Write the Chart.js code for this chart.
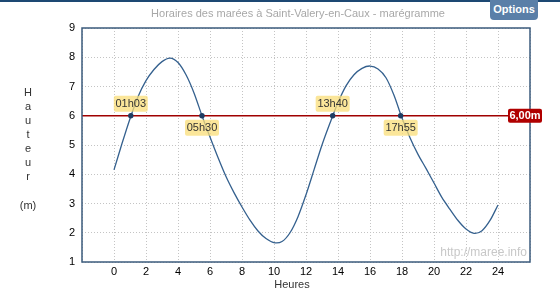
<!DOCTYPE html>
<html>
<head>
<meta charset="utf-8">
<script src="https://cdn.jsdelivr.net/npm/chart.js@4.4.1/dist/chart.umd.min.js"></script>
<style>
  body { margin: 0; background: #fff; }
  #wrap { position: relative; width: 560px; height: 299px; }
  #topbar { position: absolute; left: 0; top: 0; width: 560px; height: 2px; background: #1d4873; }
  #options {
    position: absolute; left: 490px; top: 0; width: 48px; height: 20px;
    background: #5a7fa8; color: #fff; font: bold 11px "Liberation Sans", Arial, sans-serif;
    text-align: center; line-height: 19px; border-radius: 0 0 4px 4px;
  }
</style>
</head>
<body>
<div id="wrap">
  <canvas id="myChart" width="560" height="299"></canvas>
  <div id="topbar"></div>
  <div id="options">Options</div>
</div>
<script>
// Tide heights every half hour (m)
var hours   = [0, 0.5, 1, 1.5, 2, 2.5, 3, 3.5, 4, 4.5, 5, 5.5, 6, 6.5, 7, 7.5, 8, 8.5, 9, 9.5, 10, 10.5,
               11, 11.5, 12, 12.5, 13, 13.5, 14, 14.5, 15, 15.5, 16, 16.5, 17, 17.5, 18, 18.5, 19, 19.5,
               20, 20.5, 21, 21.5, 22, 22.5, 23, 23.5, 24];
var heights = [4.15, 5.05, 5.9, 6.65, 7.2, 7.58, 7.85, 7.97, 7.82, 7.4, 6.78, 6.0, 5.27, 4.57, 3.92, 3.37, 2.88, 2.43, 2.06, 1.8, 1.66, 1.7,
               2.0, 2.55, 3.3, 4.15, 5.0, 5.75, 6.45, 7.02, 7.4, 7.62, 7.7, 7.6, 7.3, 6.7, 5.92, 5.25, 4.68, 4.2,
               3.7, 3.2, 2.8, 2.42, 2.13, 1.98, 2.07, 2.42, 2.95];
// Threshold and the times the curve crosses it
var threshold = 6;
var crossHours = [1.05, 5.5, 13.667, 17.917];
var crossLabels = ['01h03', '05h30', '13h40', '17h55'];
var crossAbove = [true, false, true, false];
// Axis ticks
var xTicks = [0, 2, 4, 6, 8, 10, 12, 14, 16, 18, 20, 22, 24];

var FONT = '"Liberation Sans", Arial, sans-serif';

function roundRect(c, x, y, w, h, r) {
  c.beginPath();
  c.moveTo(x + r, y);
  c.lineTo(x + w - r, y); c.quadraticCurveTo(x + w, y, x + w, y + r);
  c.lineTo(x + w, y + h - r); c.quadraticCurveTo(x + w, y + h, x + w - r, y + h);
  c.lineTo(x + r, y + h); c.quadraticCurveTo(x, y + h, x, y + h - r);
  c.lineTo(x, y + r); c.quadraticCurveTo(x, y, x + r, y);
  c.closePath();
}

var extras = {
  id: 'extras',
  afterDatasetsDraw: function(chart) {
    var c = chart.ctx, a = chart.chartArea;
    var xs = chart.scales.x, ys = chart.scales.y;
    c.save();
    // plot frame
    c.strokeStyle = '#3b5b7c';
    c.lineWidth = 1.5;
    c.strokeRect(a.left, a.top, a.right - a.left, a.bottom - a.top);

    // crossing labels
    c.font = '11px ' + FONT;
    c.textAlign = 'center';
    c.textBaseline = 'middle';
    for (var i = 0; i < crossHours.length; i++) {
      var px = xs.getPixelForValue(crossHours[i]);
      var py = ys.getPixelForValue(threshold);
      var cy = crossAbove[i] ? py - 12 : py + 12;
      c.fillStyle = 'rgba(250, 222, 120, 0.75)';
      roundRect(c, px - 17, cy - 8, 34, 16, 2);
      c.fill();
      c.fillStyle = '#333';
      c.fillText(crossLabels[i], px, cy + 0.5);
    }

    // threshold value tag
    var ty = ys.getPixelForValue(threshold);
    c.fillStyle = '#b00000';
    roundRect(c, 508, ty - 7, 34, 14, 2);
    c.fill();
    c.fillStyle = '#fff';
    c.font = 'bold 11px ' + FONT;
    c.fillText(threshold.toFixed(2).replace('.', ',') + 'm', 525, ty + 0.5);

    // watermark
    c.fillStyle = '#c8c8c8';
    c.font = '12px ' + FONT;
    c.textAlign = 'right';
    c.fillText('http://maree.info', a.right - 3, a.bottom - 9);

    // title
    c.fillStyle = '#a8a8a8';
    c.font = '11px ' + FONT;
    c.textAlign = 'center';
    c.fillText('Horaires des marées à Saint-Valery-en-Caux - marégramme', 298, 14);

    // axis titles
    c.fillStyle = '#333';
    c.font = '11px ' + FONT;
    c.fillText('Heures', 292, 285);
    var letters = 'Hauteur'.split('');
    for (var j = 0; j < letters.length; j++) {
      c.fillText(letters[j], 28, 93 + j * 14);
    }
    c.fillText('(m)', 28, 206);
    c.restore();
  }
};

var ctx = document.getElementById('myChart');
var myChart = new Chart(ctx, {
  type: 'line',
  data: {
    datasets: [
      {
        data: crossHours.map(function(h) { return { x: h, y: threshold }; }),
        showLine: false,
        pointRadius: 2.7,
        pointBackgroundColor: '#1f3d63',
        pointBorderWidth: 0,
        order: 0
      },
      {
        data: hours.map(function(h, i) { return { x: h, y: heights[i] }; }),
        borderColor: '#34608e',
        borderWidth: 1.3,
        pointRadius: 0,
        tension: 0.3,
        order: 1
      },
      {
        data: [{ x: -2, y: threshold }, { x: 26, y: threshold }],
        borderColor: '#a00000',
        borderWidth: 1.5,
        pointRadius: 0,
        order: 2
      }
    ]
  },
  options: {
    responsive: false,
    animation: false,
    devicePixelRatio: 1,
    layout: { padding: { top: 28, right: 30, left: 0, bottom: 0 } },
    plugins: { legend: { display: false }, tooltip: { enabled: false }, title: { display: false } },
    scales: {
      x: {
        type: 'linear', min: -2, max: 26,
        afterBuildTicks: function(s) { s.ticks = [-2].concat(xTicks, [26]).map(function(v) { return { value: v }; }); },
        ticks: {
          autoSkip: false, maxRotation: 0, padding: 3, color: '#000',
          font: { size: 11, family: FONT },
          callback: function(v) { return xTicks.indexOf(v) >= 0 ? String(v) : ''; }
        },
        grid: { color: '#c4c4c4', drawTicks: false },
        border: { display: false, dash: [1, 2] },
        afterFit: function(s) { s.height = 37; }
      },
      y: {
        min: 1, max: 9,
        ticks: { stepSize: 1, padding: 7, color: '#000', font: { size: 11, family: FONT } },
        grid: { color: '#c4c4c4', drawTicks: false },
        border: { display: false, dash: [1, 2] },
        afterFit: function(s) { s.width = 82; }
      }
    }
  },
  plugins: [extras]
});
</script>
</body>
</html>
